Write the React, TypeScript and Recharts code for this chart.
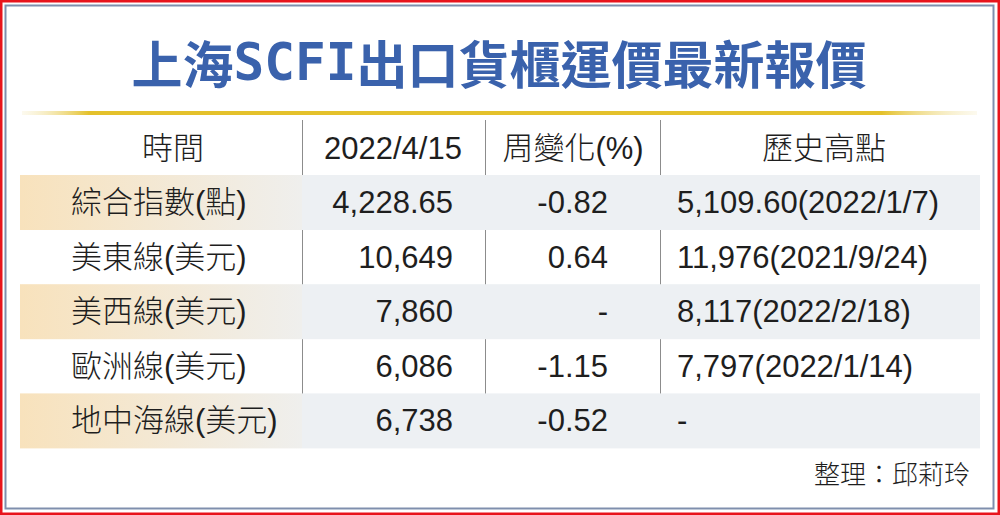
import React from 'react'
import { BarChart, Bar, XAxis, YAxis, LabelList, Customized } from 'recharts'

const headers = ['時間', '2022/4/15', '周變化(%)', '歷史高點']
const rowLabels = ['綜合指數(點)', '美東線(美元)', '美西線(美元)', '歐洲線(美元)', '地中海線(美元)']
const latest = ['4,228.65', '10,649', '7,860', '6,086', '6,738']
const weekChange = ['-0.82', '0.64', '-', '-1.15', '-0.52']
const historicHigh = ['5,109.60(2022/1/7)', '11,976(2021/9/24)', '8,117(2022/2/18)', '7,797(2022/1/14)', '-']
const title = ['上海', 'SCFI', '出口貨櫃運價最新報價']
const source = '整理：邱莉玲'

const rows = rowLabels.map((label, i) => ({
  label,
  latest: latest[i],
  change: weekChange[i],
  high: historicHigh[i],
  span: 1,
}))

const W = 1000
const H = 515
const TOP = 175
const BOTTOM = 448
const LEFT = 20
const RIGHT = 980
const seps = [302, 485, 660]
const headerX = [173, 393, 573, 824]
const FONT = '"Liberation Sans", Arial, "Noto Sans CJK TC", sans-serif'
const INK = '#1e1e1e'
const SIZE = 31

// alternating row background: beige gradient under the first column, grey under the rest
const Stripe = (p: any) => {
  const { x, y, width, height, index } = p
  if (index % 2 === 1) return <g />
  return (
    <g>
      <rect x={x} y={y} width={seps[0] - x} height={height} fill="url(#firstCol)" />
      <rect x={seps[0]} y={y} width={x + width - seps[0]} height={height} fill="#edf0f3" />
    </g>
  )
}

const cell = (tx: number, anchor: 'start' | 'end' | 'middle') => (p: any) => {
  const { y, height, value } = p
  return (
    <text
      x={tx}
      y={y + height / 2}
      textAnchor={anchor}
      dominantBaseline="central"
      fontFamily={FONT}
      fontSize={SIZE}
      fontWeight={300}
      fill={INK}
    >
      {value}
    </text>
  )
}

const Frame = () => (
  <g>
    <defs>
      <linearGradient id="gold" x1="0" y1="0" x2="1" y2="0">
        <stop offset="0" stopColor="#f6edc8" stopOpacity={0.3} />
        <stop offset="0.07" stopColor="#e4c12b" />
        <stop offset="0.9" stopColor="#e4c12b" />
        <stop offset="1" stopColor="#f6edc8" stopOpacity={0.3} />
      </linearGradient>
    </defs>
    <rect x={1} y={1} width={W - 2} height={H - 2} fill="none" stroke="#e8141c" strokeWidth={3} />
    <rect x={5.5} y={5.5} width={988} height={503} fill="none" stroke="#7f8fad" strokeWidth={2} />
    <text
      x={499}
      y={62}
      textAnchor="middle"
      dominantBaseline="central"
      fontFamily='"Noto Sans CJK TC", sans-serif'
      fontWeight={700}
      fontSize={51}
      fill="#3a62ac"
    >
      <tspan>{title[0]}</tspan>
      <tspan fontFamily='"DejaVu Sans Mono", monospace' fontWeight={700}>{title[1]}</tspan>
      <tspan>{title[2]}</tspan>
    </text>
    <rect x={22} y={111} width={955} height={4} fill="url(#gold)" />
    {headers.map((h, i) => (
      <text
        key={h}
        x={headerX[i]}
        y={148}
        textAnchor="middle"
        dominantBaseline="central"
        fontFamily={FONT}
        fontSize={SIZE}
        fontWeight={300}
        fill={INK}
      >
        {h}
      </text>
    ))}
    <text
      x={970}
      y={472}
      textAnchor="end"
      dominantBaseline="central"
      fontFamily='"Noto Sans CJK TC", sans-serif'
      fontSize={26}
      fontWeight={300}
      fill={INK}
    >
      {source}
    </text>
  </g>
)

const Separators = () => (
  <g>
    {seps.map((sx) => (
      <line key={sx} x1={sx + 0.5} x2={sx + 0.5} y1={120} y2={BOTTOM} stroke="#8c8c8c" strokeWidth={1} />
    ))}
  </g>
)

export default function App() {
  return (
    <div style={{ width: W, height: H, background: '#fff' }}>
      <style>{`body{margin:0}`}</style>
      <BarChart
        width={W}
        height={H}
        data={rows}
        layout="vertical"
        margin={{ top: TOP, bottom: H - BOTTOM, left: LEFT, right: W - RIGHT }}
        barCategoryGap={0}
      >
        <defs>
          <linearGradient id="firstCol" x1="0" y1="0" x2="1" y2="0">
            <stop offset="0" stopColor="#f8e2bc" />
            <stop offset="1" stopColor="#efefed" />
          </linearGradient>
        </defs>
        <XAxis type="number" domain={[0, 1]} hide />
        <YAxis type="category" dataKey="label" hide width={0} />
        <Customized component={<Frame />} />
        <Bar dataKey="span" shape={Stripe} isAnimationActive={false}>
          <LabelList dataKey="label" content={cell(71, 'start')} />
          <LabelList dataKey="latest" content={cell(453, 'end')} />
          <LabelList dataKey="change" content={cell(608, 'end')} />
          <LabelList dataKey="high" content={cell(677, 'start')} />
        </Bar>
        <Customized component={<Separators />} />
      </BarChart>
    </div>
  )
}
